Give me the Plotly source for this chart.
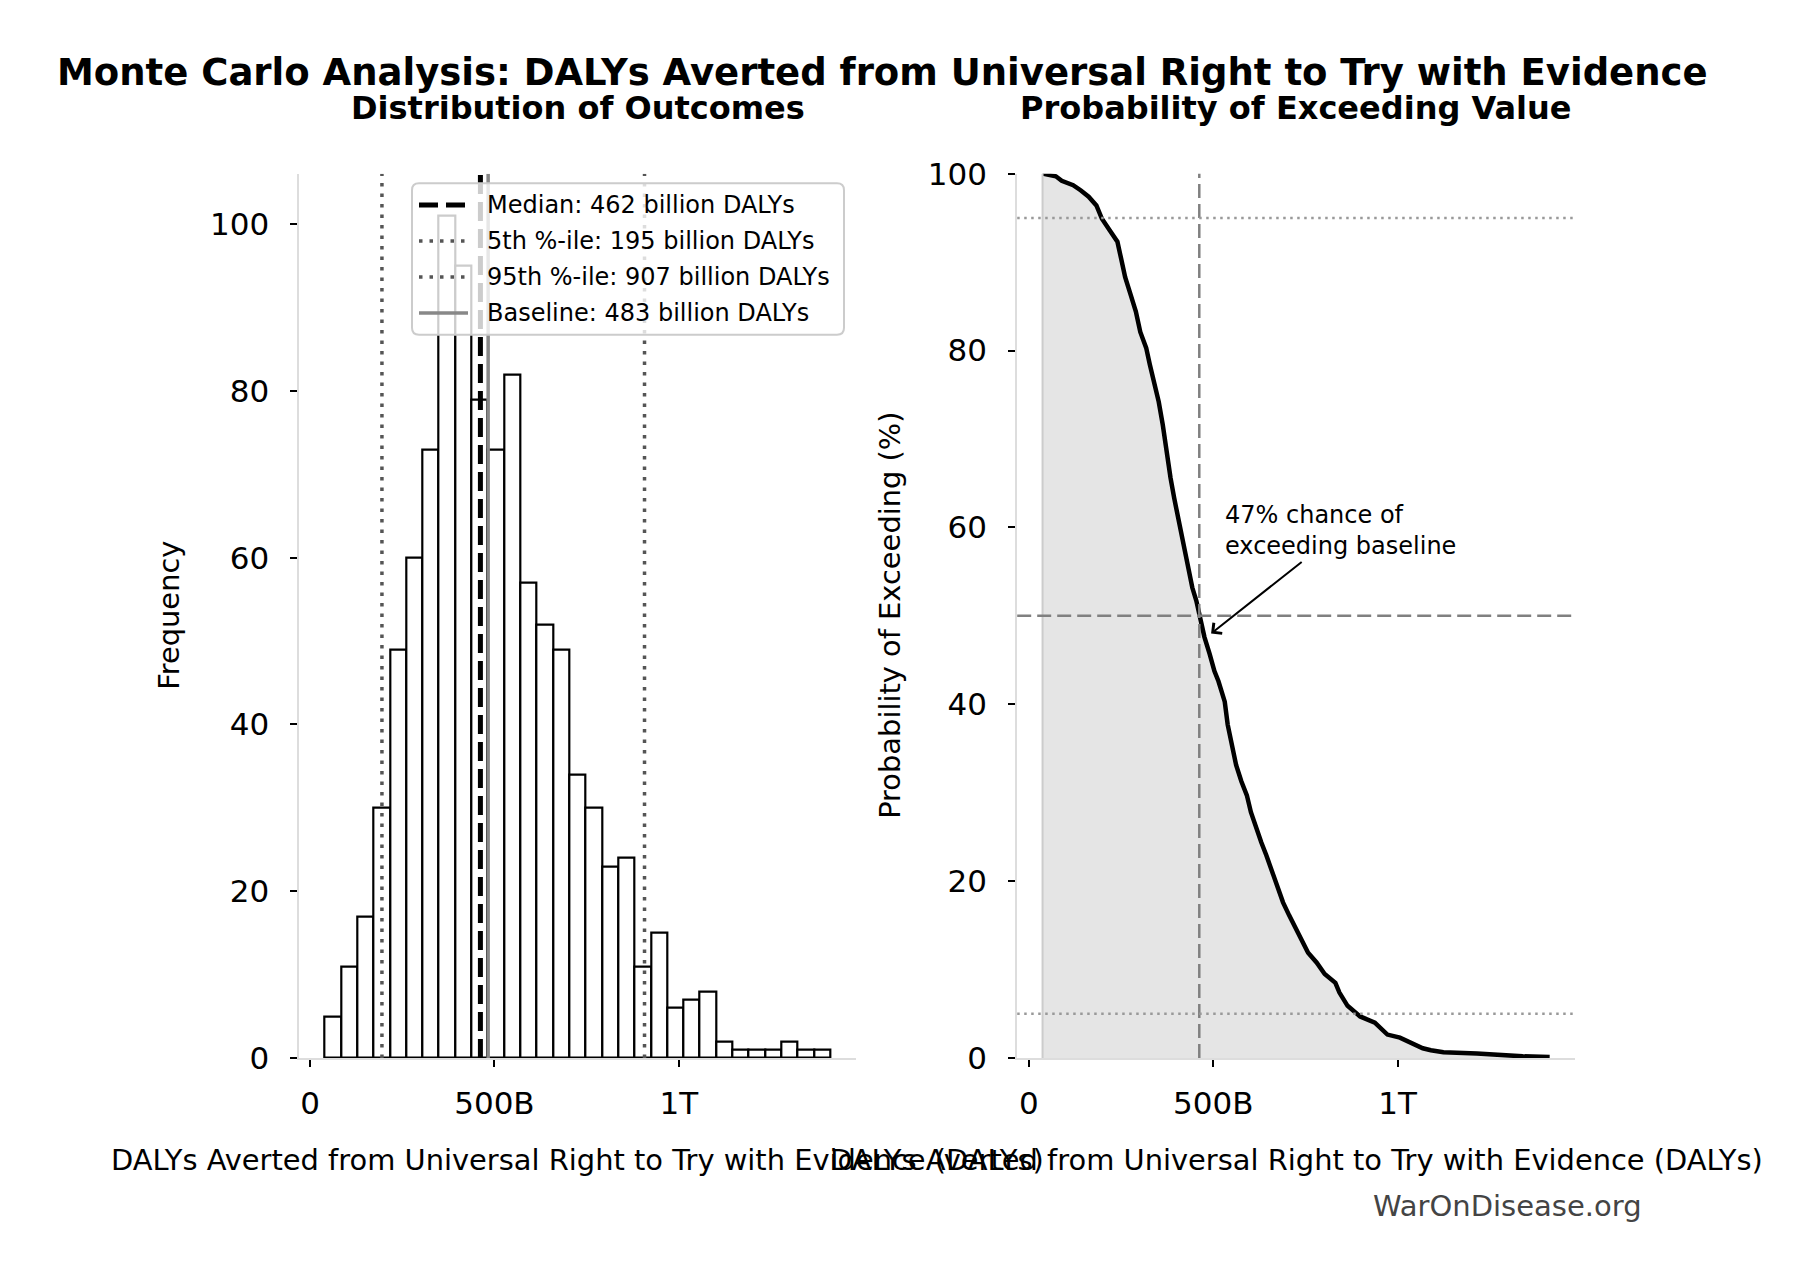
import plotly.graph_objects as go

# ---------------- data ----------------
hist_counts = [5, 11, 17, 30, 49, 60, 73, 101, 95, 79, 73, 82, 57, 52, 49, 34,
               30, 23, 24, 11, 15, 6, 7, 8, 2, 1, 1, 1, 2, 1, 1]
bin_start = 39.8      # billions of DALYs
bin_width = 44.23     # billions of DALYs

median_val = 462
p5_val = 195
p95_val = 907
baseline_val = 483

surv_x = [37, 73, 89, 120, 141, 162, 183, 198, 219, 240, 250, 261, 276, 290, 302,
          318, 328, 342, 352, 363, 373, 384, 394, 407, 419, 431, 443, 454, 462, 476,
          490, 503, 514, 531, 539, 550, 562, 576, 591, 602, 616, 630, 644, 661, 675,
          689, 706, 720, 734, 757, 780, 802, 831, 842, 864, 898, 938, 972, 1006, 1040,
          1068, 1090, 1124, 1215, 1271, 1339, 1412]
surv_pct = [100, 99.7, 99.2, 98.7, 98.1, 97.4, 96.4, 94.9, 93.6, 92.3, 90.4, 88.3,
            86.3, 84.4, 82.1, 80.3, 78.4, 76.1, 74.2, 71.6, 68.6, 65.6, 63.3, 60.7,
            58.1, 55.8, 53.2, 51.7, 50.0, 47.6, 45.7, 43.75, 42.6, 40.3, 37.7, 35.4,
            33.1, 31.3, 29.7, 27.8, 25.9, 24.4, 22.9, 21.0, 19.5, 17.6, 16.1, 15.0,
            13.8, 11.9, 10.8, 9.5, 8.5, 7.4, 5.9, 4.7, 4.0, 2.65, 2.3, 1.7, 1.1, 0.87,
            0.64, 0.5, 0.34, 0.19, 0.1]

x_tickvals = [0, 500, 1000]
x_ticktext = ["0", "500B", "1T"]
y_tickvals = [0, 20, 40, 60, 80, 100]

legend_labels = [
    f"Median: {median_val} billion DALYs",
    f"5th %-ile: {p5_val} billion DALYs",
    f"95th %-ile: {p95_val} billion DALYs",
    f"Baseline: {baseline_val} billion DALYs",
]
annot_pct = 47

# ---------------- layout geometry (screen pixels of the target picture) ----------------
W, H = 1818, 1280
OFF = 8  # page body margin
FONT = "DejaVu Sans"


def px(x):
    return (x - OFF) / W


def py(y):
    yy = 1.027 * y - 20.3
    return 1 - (yy - OFF) / H


left_dom = [px(299.4), px(855.7)]
right_dom = [px(1017.2), px(1575.0)]
y_dom = [py(1061.5), py(175.5)]

left_range = [-28.8, 1479.6]
right_range = [-31.75, 1480.75]
hist_ymax = max(hist_counts) * 1.05

fig = go.Figure()

# histogram bars
centers = [bin_start + bin_width * (i + 0.5) for i in range(len(hist_counts))]
fig.add_trace(go.Bar(x=centers, y=hist_counts, width=bin_width,
                     marker=dict(color="white", line=dict(color="black", width=2.2)),
                     xaxis="x", yaxis="y", showlegend=False, hoverinfo="skip"))


def vline(v, color, width, dash, xa="x", ya="y", ymax=hist_ymax):
    fig.add_trace(go.Scatter(x=[v, v], y=[0, ymax], mode="lines",
                             line=dict(color=color, width=width, dash=dash),
                             xaxis=xa, yaxis=ya, showlegend=False, hoverinfo="skip"))


MED_STYLE = ("black", 5, "19px,8px")
PCT_STYLE = ("#555555", 3.5, "3.5px,7px")
BASE_STYLE = ("#888888", 3.5, "solid")
vline(median_val, *MED_STYLE)
vline(p5_val, *PCT_STYLE)
vline(p95_val, *PCT_STYLE)
vline(baseline_val, *BASE_STYLE)

# right panel: exceedance curve with fill
fig.add_trace(go.Scatter(x=surv_x, y=surv_pct, mode="lines", fill="tozeroy",
                         fillcolor="#e5e5e5", line=dict(color="black", width=4.5),
                         xaxis="x2", yaxis="y2", showlegend=False, hoverinfo="skip"))
fig.add_trace(go.Scatter(x=[surv_x[0], surv_x[0]], y=[0, surv_pct[0]], mode="lines",
                         line=dict(color="#cccccc", width=2),
                         xaxis="x2", yaxis="y2", showlegend=False, hoverinfo="skip"))

shapes = []
shapes.append(dict(type="line", xref="x2", yref="y2 domain", x0=median_val, x1=median_val,
                   y0=0, y1=1, line=dict(color="#808080", width=2.5, dash="14px,6px")))
shapes.append(dict(type="line", xref="x2 domain", yref="y2", x0=0, x1=1, y0=50, y1=50,
                   line=dict(color="#808080", width=2.5, dash="14px,6px")))
for lv in (95, 5):
    shapes.append(dict(type="line", xref="x2 domain", yref="y2", x0=0, x1=1, y0=lv, y1=lv,
                       line=dict(color="#999999", width=2.5, dash="2.5px,4.5px")))

# manual legend box
lx0, lx1, ly0, ly1 = 412, 844, 185, 337
r = 7


def P(x, y):
    return f"{px(x):.5f},{py(y):.5f}"


path = (f"M{P(lx0 + r, ly0)} L{P(lx1 - r, ly0)} Q{P(lx1, ly0)} {P(lx1, ly0 + r)} "
        f"L{P(lx1, ly1 - r)} Q{P(lx1, ly1)} {P(lx1 - r, ly1)} "
        f"L{P(lx0 + r, ly1)} Q{P(lx0, ly1)} {P(lx0, ly1 - r)} "
        f"L{P(lx0, ly0 + r)} Q{P(lx0, ly0)} {P(lx0 + r, ly0)} Z")
shapes.append(dict(type="path", xref="paper", yref="paper", path=path,
                   fillcolor="rgba(255,255,255,0.8)", line=dict(color="#cccccc", width=2),
                   layer="above"))
rows_y = [207, 243, 279, 315]
styles = [MED_STYLE, PCT_STYLE, PCT_STYLE, BASE_STYLE]
annotations = []
for ry, (c, w_, d), lab in zip(rows_y, styles, legend_labels):
    shapes.append(dict(type="line", xref="paper", yref="paper", x0=px(419), x1=px(468),
                       y0=py(ry), y1=py(ry), line=dict(color=c, width=w_, dash=d),
                       layer="above"))
    annotations.append(dict(text=lab, xref="paper", yref="paper", x=px(485), y=py(ry),
                            xanchor="left", yanchor="middle", showarrow=False,
                            font=dict(size=24, color="black", family=FONT)))

# titles
annotations.append(dict(text="<b>Monte Carlo Analysis: DALYs Averted from Universal Right to Try with Evidence</b>",
                        xref="paper", yref="paper", x=px(882.5), y=py(74), xanchor="center",
                        yanchor="middle", showarrow=False,
                        font=dict(size=37, family=FONT, color="black")))
annotations.append(dict(text="<b>Distribution of Outcomes</b>", xref="paper", yref="paper",
                        x=(left_dom[0] + left_dom[1]) / 2, y=py(110), xanchor="center",
                        yanchor="middle", showarrow=False,
                        font=dict(size=32, family=FONT, color="black")))
annotations.append(dict(text="<b>Probability of Exceeding Value</b>", xref="paper", yref="paper",
                        x=(right_dom[0] + right_dom[1]) / 2, y=py(110), xanchor="center",
                        yanchor="middle", showarrow=False,
                        font=dict(size=32, family=FONT, color="black")))
xlab = "DALYs Averted from Universal Right to Try with Evidence (DALYs)"
for dom in (left_dom, right_dom):
    annotations.append(dict(text=xlab, xref="paper", yref="paper", x=(dom[0] + dom[1]) / 2,
                            y=py(1164), xanchor="center", yanchor="middle", showarrow=False,
                            font=dict(size=28.9, family=FONT, color="black")))
annotations.append(dict(text="Frequency", xref="paper", yref="paper", x=px(169),
                        y=(y_dom[0] + y_dom[1]) / 2, textangle=-90, xanchor="center",
                        yanchor="middle", showarrow=False,
                        font=dict(size=28.9, family=FONT, color="black")))
annotations.append(dict(text="Probability of Exceeding (%)", xref="paper", yref="paper",
                        x=px(890), y=(y_dom[0] + y_dom[1]) / 2, textangle=-90,
                        xanchor="center", yanchor="middle", showarrow=False,
                        font=dict(size=28.9, family=FONT, color="black")))
annotations.append(dict(text="WarOnDisease.org", xref="paper", yref="paper", x=px(1507),
                        y=py(1210), xanchor="center", yanchor="middle", showarrow=False,
                        font=dict(size=29, family=FONT, color="#444444")))
# arrow annotation (text centred at its tail point)
annotations.append(dict(text=f"{annot_pct}% chance of<br>exceeding baseline", xref="x2", yref="y2",
                        x=baseline_val + 11, y=annot_pct + 1, ax=846, ay=59.6,
                        axref="x2", ayref="y2",
                        showarrow=True, arrowhead=4, arrowsize=1.3, arrowwidth=2,
                        arrowcolor="black", xanchor="center", yanchor="middle", align="left",
                        font=dict(size=24, family=FONT, color="black")))

axis_common = dict(showgrid=False, zeroline=False, showline=True, linecolor="#dddddd",
                   linewidth=2, ticks="outside", ticklen=7, tickwidth=1.8, tickcolor="black",
                   tickfont=dict(size=31, family=FONT, color="black"), mirror=False)

fig.update_layout(
    width=W, height=H, margin=dict(l=0, r=0, t=0, b=0),
    paper_bgcolor="white", plot_bgcolor="white",
    font=dict(family=FONT), showlegend=False,
    xaxis=dict(domain=left_dom, range=left_range, tickvals=x_tickvals, ticktext=x_ticktext,
               anchor="y", ticklabelstandoff=10, **axis_common),
    yaxis=dict(domain=y_dom, range=[0, hist_ymax], tickvals=y_tickvals, anchor="x",
               ticklabelstandoff=15, **axis_common),
    xaxis2=dict(domain=right_dom, range=right_range, tickvals=x_tickvals, ticktext=x_ticktext,
                anchor="y2", ticklabelstandoff=10, **axis_common),
    yaxis2=dict(domain=y_dom, range=[0, 100], tickvals=y_tickvals, anchor="x2",
                ticklabelstandoff=15, **axis_common),
    shapes=shapes, annotations=annotations, bargap=0,
)

fig.write_html("out.html")
